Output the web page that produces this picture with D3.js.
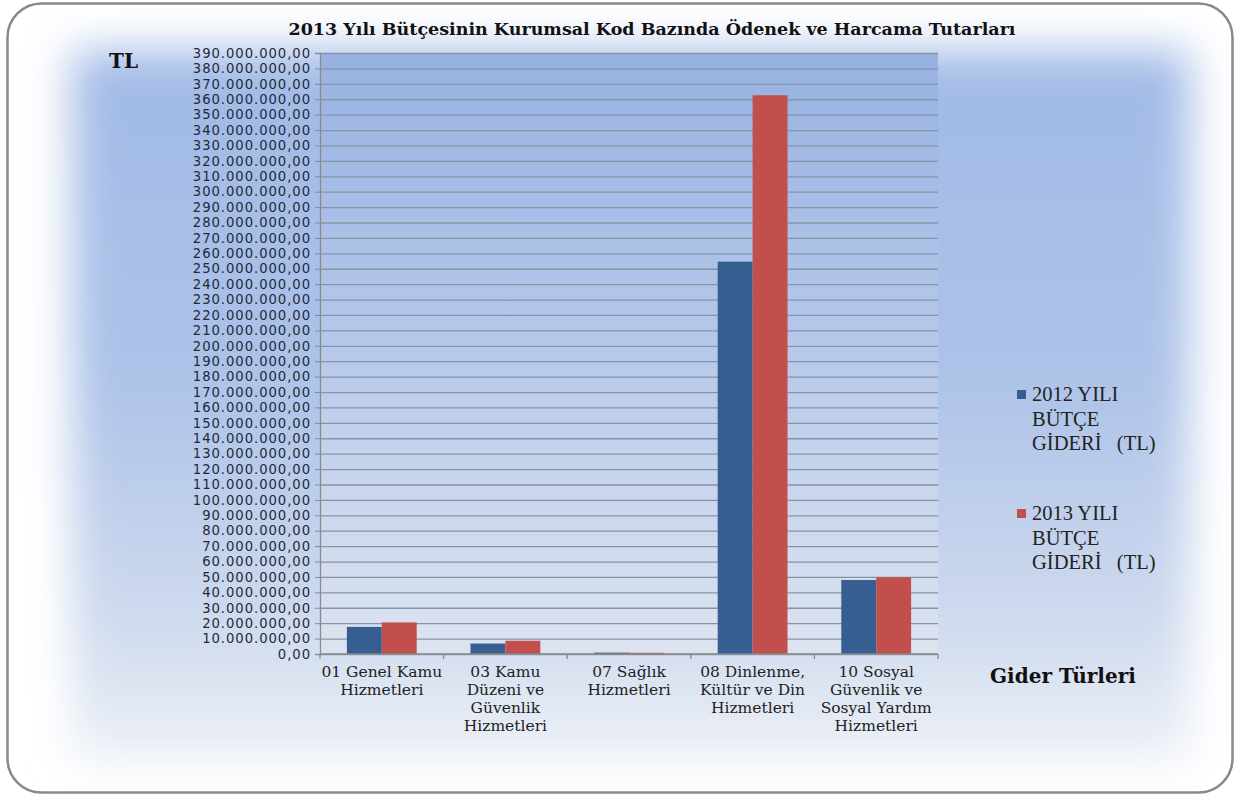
<!DOCTYPE html>
<html>
<head>
<meta charset="utf-8">
<script src="https://cdn.jsdelivr.net/npm/d3@7"></script>
<style>
  html, body { margin: 0; padding: 0; background: #fff; }
  svg { display: block; }
  .tick-label { font-family: "DejaVu Sans", Verdana, sans-serif; font-size: 13.2px; letter-spacing: 0.95px; fill: #1f2a3a; }
  .cat-label { font-family: "DejaVu Serif", serif; font-size: 15.5px; fill: #222; }
  .bold-serif { font-family: "DejaVu Serif", serif; font-weight: bold; fill: #111; }
  .legend-text { font-family: "Liberation Serif", "Times New Roman", serif; font-size: 20.5px; fill: #222; }
</style>
</head>
<body>
<div id="chart"></div>
<script>
'use strict';

const W = 1241, H = 796;
const PLOT = { left: 320, right: 938, top: 53, bottom: 654 };

// Data
const categoryLines = [
  ['01 Genel Kamu', 'Hizmetleri'],
  ['03 Kamu', 'Düzeni ve', 'Güvenlik', 'Hizmetleri'],
  ['07 Sağlık', 'Hizmetleri'],
  ['08 Dinlenme,', 'Kültür ve Din', 'Hizmetleri'],
  ['10 Sosyal', 'Güvenlik ve', 'Sosyal Yardım', 'Hizmetleri'],
];
const seriesNames = ['2012', '2013'];
const values2012 = [17.6e6, 6.8e6, 0.9e6, 254.6e6, 48.0e6];
const values2013 = [20.5e6, 8.6e6, 0.8e6, 362.6e6, 49.8e6];
const yMax = 390e6;
const yStep = 10e6;
const legendLines = [
  ['2012 YILI', 'BÜTÇE', 'GİDERİ   (TL)'],
  ['2013 YILI', 'BÜTÇE', 'GİDERİ   (TL)'],
];
const seriesColors = ['#375e91', '#c24f4b'];

const titleText = '2013 Yılı Bütçesinin Kurumsal Kod Bazında Ödenek ve Harcama Tutarları';

const trLocale = d3.formatLocale({ decimal: ',', thousands: '.', grouping: [3], currency: ['', ' TL'] });
const fmt = trLocale.format(',.2f');

const svg = d3.select('#chart').append('svg')
  .attr('width', W)
  .attr('height', H);

const defs = svg.append('defs');

const bgGrad = defs.append('linearGradient')
  .attr('id', 'bgGrad').attr('x1', 0).attr('y1', 0).attr('x2', 0).attr('y2', 1);
[[0, '#a1bae6'], [0.45, '#acc2e8'], [0.8, '#cfdaee'], [1, '#edf1f7']]
  .forEach(([o, c]) => bgGrad.append('stop').attr('offset', o).attr('stop-color', c));

const plotGrad = defs.append('linearGradient')
  .attr('id', 'plotGrad').attr('x1', 0).attr('y1', 0).attr('x2', 0).attr('y2', 1);
[[0, '#97b2e2'], [0.5, '#b7c9ea'], [1, '#dde4f0']]
  .forEach(([o, c]) => plotGrad.append('stop').attr('offset', o).attr('stop-color', c));

defs.append('filter')
  .attr('id', 'blur').attr('x', '-20%').attr('y', '-20%').attr('width', '140%').attr('height', '140%')
  .append('feGaussianBlur').attr('stdDeviation', 22);

defs.append('clipPath').attr('id', 'frameClip')
  .append('rect').attr('x', 8).attr('y', 4).attr('width', 1224).attr('height', 788).attr('rx', 34);

// Background glow inside the frame
svg.append('g').attr('clip-path', 'url(#frameClip)')
  .append('rect')
  .attr('x', 72).attr('y', 50).attr('width', 1118).attr('height', 712)
  .attr('fill', 'url(#bgGrad)')
  .attr('filter', 'url(#blur)');

// Frame
svg.append('rect')
  .attr('x', 7.5).attr('y', 3.5).attr('width', 1225).attr('height', 789).attr('rx', 34)
  .attr('fill', 'none').attr('stroke', '#8a8a8a').attr('stroke-width', 2.5);

// Scales
const x = d3.scaleBand()
  .domain(d3.range(categoryLines.length))
  .range([PLOT.left, PLOT.right])
  .padding(0);

const xInner = d3.scaleBand()
  .domain(seriesNames)
  .range([0, x.bandwidth()])
  .paddingInner(0)
  .paddingOuter(0.77);

const y = d3.scaleLinear()
  .domain([0, yMax])
  .range([PLOT.bottom, PLOT.top]);

// Plot area
svg.append('rect')
  .attr('x', PLOT.left).attr('y', PLOT.top)
  .attr('width', PLOT.right - PLOT.left).attr('height', PLOT.bottom - PLOT.top)
  .attr('fill', 'url(#plotGrad)');

// Gridlines
const yTicks = d3.range(0, yMax + 1, yStep);
svg.append('g')
  .attr('transform', `translate(${PLOT.left},0)`)
  .call(d3.axisLeft(y).tickValues(yTicks).tickSize(-(PLOT.right - PLOT.left)).tickFormat(''))
  .call(g => g.select('.domain').remove())
  .call(g => g.selectAll('line').attr('stroke', '#8893a6').attr('stroke-width', 1.3));

// Y axis
svg.append('g')
  .attr('transform', `translate(${PLOT.left},0)`)
  .call(d3.axisLeft(y).tickValues(yTicks).tickSize(5).tickPadding(4).tickFormat(fmt))
  .call(g => g.select('.domain').attr('stroke', '#8a8a8a').attr('stroke-width', 1.3))
  .call(g => g.selectAll('.tick line').attr('stroke', '#8a8a8a'))
  .call(g => g.selectAll('.tick text')
    .attr('class', 'tick-label')
    .attr('fill', null));
svg.selectAll('g[font-family]').attr('font-family', null).attr('font-size', null);

// Bars
const seriesValues = [values2012, values2013];
seriesValues.forEach((vals, si) => {
  svg.append('g')
    .selectAll('rect')
    .data(vals)
    .join('rect')
    .attr('x', (d, i) => x(i) + xInner(seriesNames[si]))
    .attr('width', xInner.bandwidth())
    .attr('y', d => y(d))
    .attr('height', d => Math.max(1.5, y(0) - y(d)))
    .attr('fill', seriesColors[si]);
});

// X axis
svg.append('line')
  .attr('x1', PLOT.left).attr('x2', PLOT.right)
  .attr('y1', y(0)).attr('y2', y(0))
  .attr('stroke', '#8a8a8a').attr('stroke-width', 1.3);

svg.append('g')
  .selectAll('line')
  .data(d3.range(categoryLines.length + 1))
  .join('line')
  .attr('x1', i => PLOT.left + i * x.step())
  .attr('x2', i => PLOT.left + i * x.step())
  .attr('y1', y(0)).attr('y2', y(0) + 5)
  .attr('stroke', '#8a8a8a').attr('stroke-width', 1.3);

// Category labels
const catG = svg.append('g');
categoryLines.forEach((lines, i) => {
  const t = catG.append('text')
    .attr('class', 'cat-label')
    .attr('text-anchor', 'middle')
    .attr('x', x(i) + x.bandwidth() / 2)
    .attr('y', 677);
  lines.forEach((ln, k) => {
    t.append('tspan')
      .attr('x', x(i) + x.bandwidth() / 2)
      .attr('dy', k === 0 ? 0 : 18)
      .text(ln);
  });
});

// Title
svg.append('text')
  .attr('class', 'bold-serif')
  .attr('x', 652).attr('y', 35)
  .attr('text-anchor', 'middle')
  .attr('font-size', 17.5)
  .text(titleText);

// Axis titles
svg.append('text')
  .attr('class', 'bold-serif')
  .attr('x', 109).attr('y', 68)
  .attr('font-size', 20)
  .text('TL');

svg.append('text')
  .attr('class', 'bold-serif')
  .attr('x', 990).attr('y', 683)
  .attr('font-size', 20)
  .text('Gider Türleri');

// Legend
const legendY = [401, 520];
legendLines.forEach((lines, si) => {
  const g = svg.append('g');
  g.append('rect')
    .attr('x', 1017).attr('y', legendY[si] - 11)
    .attr('width', 9).attr('height', 9)
    .attr('fill', seriesColors[si]);
  const t = g.append('text')
    .attr('class', 'legend-text')
    .attr('x', 1032).attr('y', legendY[si]);
  lines.forEach((ln, k) => {
    t.append('tspan')
      .attr('x', 1032)
      .attr('dy', k === 0 ? 0 : 24.5)
      .style('white-space', 'pre')
      .text(ln);
  });
});
</script>
</body>
</html>
